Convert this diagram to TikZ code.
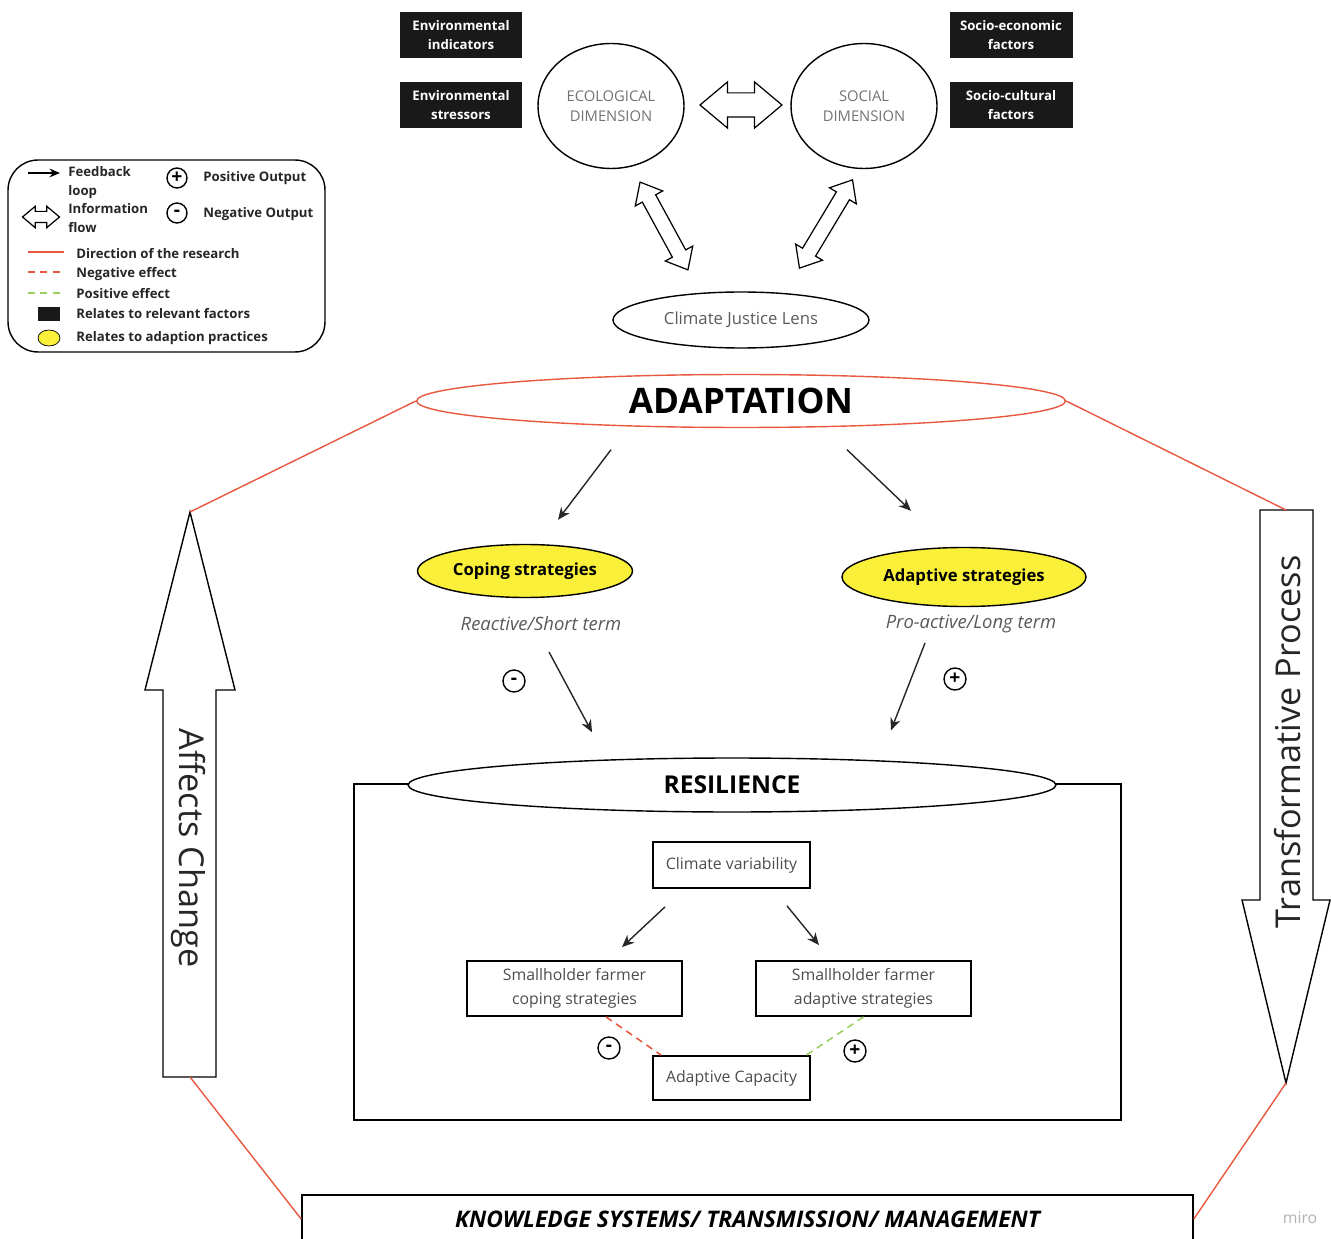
\documentclass[tikz,border=0pt]{standalone}
\usepackage{fontspec}
\setmainfont{Open Sans}
\usetikzlibrary{arrows.meta,positioning,shapes.geometric,shapes.arrows}
\definecolor{resred}{HTML}{E8583F}
\definecolor{effgreen}{HTML}{9BD163}
\definecolor{copeyellow}{HTML}{FAF03A}

\begin{document}
\begin{tikzpicture}[x=0.02cm,y=-0.02cm,
  factor/.style={fill=black!90,text=white,font=\fontsize{7.5}{10.8}\selectfont\bfseries,align=center,
    minimum width=2.46cm,minimum height=0.92cm,inner sep=0},
  dimension/.style={ellipse,draw,line width=0.8pt,minimum width=2.92cm,minimum height=2.5cm,inner sep=0,
    align=center,text=black!55,font=\fontsize{8.4}{11.3}\selectfont},
  flow/.style={double arrow,draw,line width=0.7pt,inner xsep=0,double arrow tip angle=80},
  strategy/.style={ellipse,draw,fill=copeyellow,line width=0.8pt,inner sep=0,
    font=\fontsize{9.5}{11}\selectfont\bfseries},
  term/.style={text=black!65,font=\fontsize{10.5}{12}\selectfont\itshape},
  cbox/.style={draw,line width=1pt,inner sep=0,align=center,text=black!70,font=\fontsize{9}{13.5}\selectfont},
  sign/.style={circle,draw,line width=0.8pt,inner sep=0,minimum size=0.44cm,font=\fontsize{11}{11}\selectfont\bfseries},
  flowarrow/.style={-{Stealth[length=7pt,width=6pt]},line width=0.8pt,black!85},
  research/.style={resred,line width=0.8pt},
  negeffect/.style={resred,line width=0.9pt,dash pattern=on 4pt off 3pt},
  poseffect/.style={effgreen,line width=0.9pt,dash pattern=on 4pt off 3pt},
  legtext/.style={anchor=west,inner sep=0,align=left,text=black!85,font=\fontsize{7.5}{10.8}\selectfont\bfseries},
  bigtext/.style={text=black!85,font=\fontsize{19.5}{21}\selectfont}
]
\useasboundingbox (0,0) rectangle (1331,1239);

% legend
\node[draw,line width=0.8pt,rounded corners=0.6cm,minimum width=6.34cm,minimum height=3.84cm] (legend) at (166.5,256) {};
\draw[-{Stealth[length=6pt,width=5pt]},line width=0.8pt] (28,173) -- (60,173);
\node[legtext] at (68,182.5) {Feedback\\loop};
\node[sign,minimum size=0.4cm] at (177,178) {+};
\node[legtext] at (203,178) {Positive Output};
\node[flow,minimum height=0.74cm,inner ysep=0.1cm,double arrow head extend=0.1cm] at (41,217) {};
\node[legtext] at (68,218.5) {Information\\flow};
\node[sign,minimum size=0.4cm] at (177,213) {-};
\node[legtext] at (203,214) {Negative Output};
\draw[research] (28,252) -- (64,252);
\node[legtext] at (76,254) {Direction of the research};
\draw[negeffect] (28,272) -- (64,272);
\node[legtext] at (76,274) {Negative effect};
\draw[poseffect] (28,293) -- (64,293);
\node[legtext] at (76,294) {Positive effect};
\fill[black!90] (38,307) rectangle (60,321);
\node[legtext] at (76,314) {Relates to relevant factors};
\node[ellipse,draw,fill=copeyellow,minimum width=0.44cm,minimum height=0.32cm,inner sep=0] at (49,338) {};
\node[legtext] at (76,338) {Relates to adaption practices};

% dimensions
\node[factor] (envind) at (461,35) {Environmental\\indicators};
\node[factor] (envstr) at (461,105) {Environmental\\stressors};
\node[factor] (socecon) at (1011,35) {Socio-economic\\factors};
\node[factor] (soccult) at (1011,105) {Socio-cultural\\factors};
\node[dimension] (eco) at (611,106) {ECOLOGICAL\\DIMENSION};
\node[dimension] (soc) at (864,106) {SOCIAL\\DIMENSION};
\node[flow,minimum height=1.64cm,inner ysep=0.23cm,double arrow head extend=0.22cm] (ecosoc) at (741,105) {};
\node[flow,minimum height=2cm,inner ysep=0.14cm,double arrow head extend=0.16cm,rotate=-61.4] (ecolens) at (664,226) {};
\node[flow,minimum height=2.06cm,inner ysep=0.14cm,double arrow head extend=0.16cm,rotate=59] (soclens) at (826,224) {};
\node[ellipse,draw,line width=0.8pt,minimum width=5.12cm,minimum height=1.12cm,inner sep=0,
  text=black!65,font=\fontsize{9.5}{11}\selectfont] (lens) at (741,320) {Climate Justice Lens};

% adaptation
\node[ellipse,draw=resred,line width=0.8pt,minimum width=12.98cm,minimum height=1.06cm,inner sep=0,
  font=\fontsize{20}{22}\selectfont\bfseries] (adapt) at (741,401) {ADAPTATION};
\node[strategy,minimum width=4.3cm,minimum height=1.06cm] (coping) at (525,571) {Coping strategies};
\node[strategy,minimum width=4.88cm,minimum height=1.18cm] (adaptive) at (964,577) {Adaptive strategies};
\node[term] (reactive) at (541,624) {Reactive/Short term};
\node[term] (proactive) at (971,624) {Pro-active/Long term};
\node[sign] (copeminus) at (514,681) {-};
\node[sign] (adaptplus) at (955,679) {+};
\draw[flowarrow] ([xshift=-2.6cm,yshift=-0.43cm]adapt.south) -- ([xshift=0.66cm,yshift=0.48cm]coping.north);
\draw[flowarrow] ([xshift=2.12cm,yshift=-0.43cm]adapt.south) -- ([xshift=-1.06cm,yshift=0.72cm]adaptive.north);

% resilience
\node[draw,line width=1pt,minimum width=15.34cm,minimum height=6.72cm,inner sep=0] (resbox) at (737.5,952) {};
\node[ellipse,draw,fill=white,line width=0.8pt,minimum width=12.96cm,minimum height=1.08cm,inner sep=0,
  font=\fontsize{14}{16}\selectfont\bfseries] (resil) at (732,785) {RESILIENCE};
\draw[flowarrow] ([xshift=0.16cm,yshift=-0.56cm]reactive.center) -- ([xshift=-2.8cm,yshift=0.5cm]resil.north);
\draw[flowarrow] ([xshift=-0.92cm,yshift=-0.38cm]proactive.center) -- ([xshift=3.18cm,yshift=0.54cm]resil.north);
\node[cbox,minimum width=3.14cm,minimum height=0.92cm] (climvar) at (731.5,865) {Climate variability};
\node[cbox,minimum width=4.3cm,minimum height=1.1cm] (smcope) at (574.5,988.5) {Smallholder farmer\\coping strategies};
\node[cbox,minimum width=4.3cm,minimum height=1.1cm] (smadapt) at (863.5,988.5) {Smallholder farmer\\adaptive strategies};
\node[cbox,minimum width=3.14cm,minimum height=0.88cm] (adcap) at (731.5,1078) {Adaptive Capacity};
\node[sign] (capminus) at (609,1048) {-};
\node[sign] (capplus) at (855,1051) {+};
\draw[flowarrow] ([xshift=-1.33cm,yshift=-0.36cm]climvar.south) -- ([xshift=0.95cm,yshift=0.26cm]smcope.north);
\draw[flowarrow] ([xshift=1.11cm,yshift=-0.34cm]climvar.south) -- ([xshift=-0.89cm,yshift=0.3cm]smadapt.north);
\draw[negeffect] (smcope.-42) -- (adcap.162);
\draw[poseffect] (smadapt.south) -- (adcap.17);

% big arrows and knowledge
\draw[line width=0.8pt,fill=white] (190,512) -- (235,690) -- (216,690) -- (216,1077) -- (163,1077)
  -- (163,690) -- (145,690) -- cycle;
\draw[line width=0.8pt,fill=white] (1260,510) -- (1313,510) -- (1313,900) -- (1330,900) -- (1286,1083)
  -- (1242,900) -- (1260,900) -- cycle;
\coordinate (uptip) at (190,512);
\coordinate (upfoot) at (190,1077);
\coordinate (downtop) at (1286,510);
\coordinate (downtip) at (1286,1083);
\node[bigtext,rotate=-90] (affects) at (188,848) {Affects Change};
\node[bigtext,rotate=90] (transform) at (1288,742) {Transformative Process};
\node[draw,line width=1pt,minimum width=17.82cm,minimum height=0.96cm,inner sep=0,
  font=\fontsize{13}{15}\selectfont\bfseries\itshape] (know) at (747.5,1219) {KNOWLEDGE SYSTEMS/ TRANSMISSION/ MANAGEMENT};
\draw[research] (adapt.west) -- (uptip);
\draw[research] (adapt.east) -- (downtop);
\draw[research] (upfoot) -- (know.west);
\draw[research] (downtip) -- (know.east);
\node[text=black!30,font=\fontsize{9}{10}\selectfont] (miro) at (1300,1218) {miro};
\end{tikzpicture}
\end{document}
